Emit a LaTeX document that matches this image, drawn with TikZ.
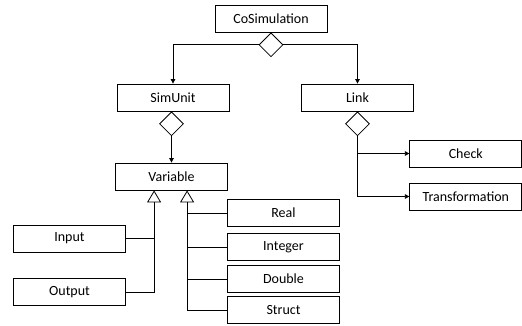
\documentclass[tikz,border=0pt]{standalone}
\usepackage{fontspec}
\setmainfont{Carlito}
\usetikzlibrary{shapes.geometric,arrows.meta,calc}
\begin{document}
\begin{tikzpicture}[x=1pt,y=-1pt,
  box/.style={draw,line width=0.8pt,minimum width=112pt,minimum height=27pt,inner sep=0pt,font=\fontsize{14}{16}\selectfont},
  dia/.style={draw,line width=0.8pt,diamond,minimum width=24pt,minimum height=24pt,inner sep=0pt,anchor=north},
  arr/.style={line width=0.8pt,-{Triangle[length=4.5pt,width=4.5pt]}},
  inh/.style={line width=0.8pt,-{Triangle[open,length=12pt,width=14pt,line width=0.8pt]}},
  ln/.style={line width=0.8pt}]
\useasboundingbox (0,0) rectangle (522,325);
\node[box] (cosim) at (271,18.5) {CoSimulation};
\node[box] (simunit) at (173,97.5) {SimUnit};
\node[box] (link) at (357.5,97.5) {Link};
\node[box] (variable) at (171.5,176.5) {Variable};
\node[box] (check) at (465.8,153.5) {Check};
\node[box] (trans) at (465.8,196.5) {Transformation};
\node[box] (input) at (69.5,238.5) {Input};
\node[box] (output) at (69.5,292) {Output};
\node[box] (real) at (283.5,213) {Real};
\node[box] (integer) at (283.5,247) {Integer};
\node[box] (double) at (283.5,279) {Double};
\node[box] (struct) at (283.5,310) {Struct};
\node[dia] (d1) at (cosim.south) {};
\node[dia] (d2) at (variable.north |- simunit.south) {};
\node[dia] (d3) at (link.south) {};
\draw[arr] (d1.west) -| (simunit.north);
\draw[arr] (d1.east) -| (link.north);
\draw[arr] (d2.south) -- (d2.south |- variable.north);
\draw[arr] (d3.south) |- (trans.west);
\draw[arr] (d3.south |- check.west) -- (check.west);
\coordinate (t1) at ($(variable.south west)+(39,0)$);
\coordinate (t2) at ($(variable.south west)+(72,0)$);
\draw[inh] (output.east) -| (t1);
\draw[ln] (input.east) -- (input.east -| t1);
\draw[inh] (struct.west) -| (t2);
\draw[ln] (real.west) -- (real.west -| t2);
\draw[ln] (integer.west) -- (integer.west -| t2);
\draw[ln] (double.west) -- (double.west -| t2);
\end{tikzpicture}
\end{document}
